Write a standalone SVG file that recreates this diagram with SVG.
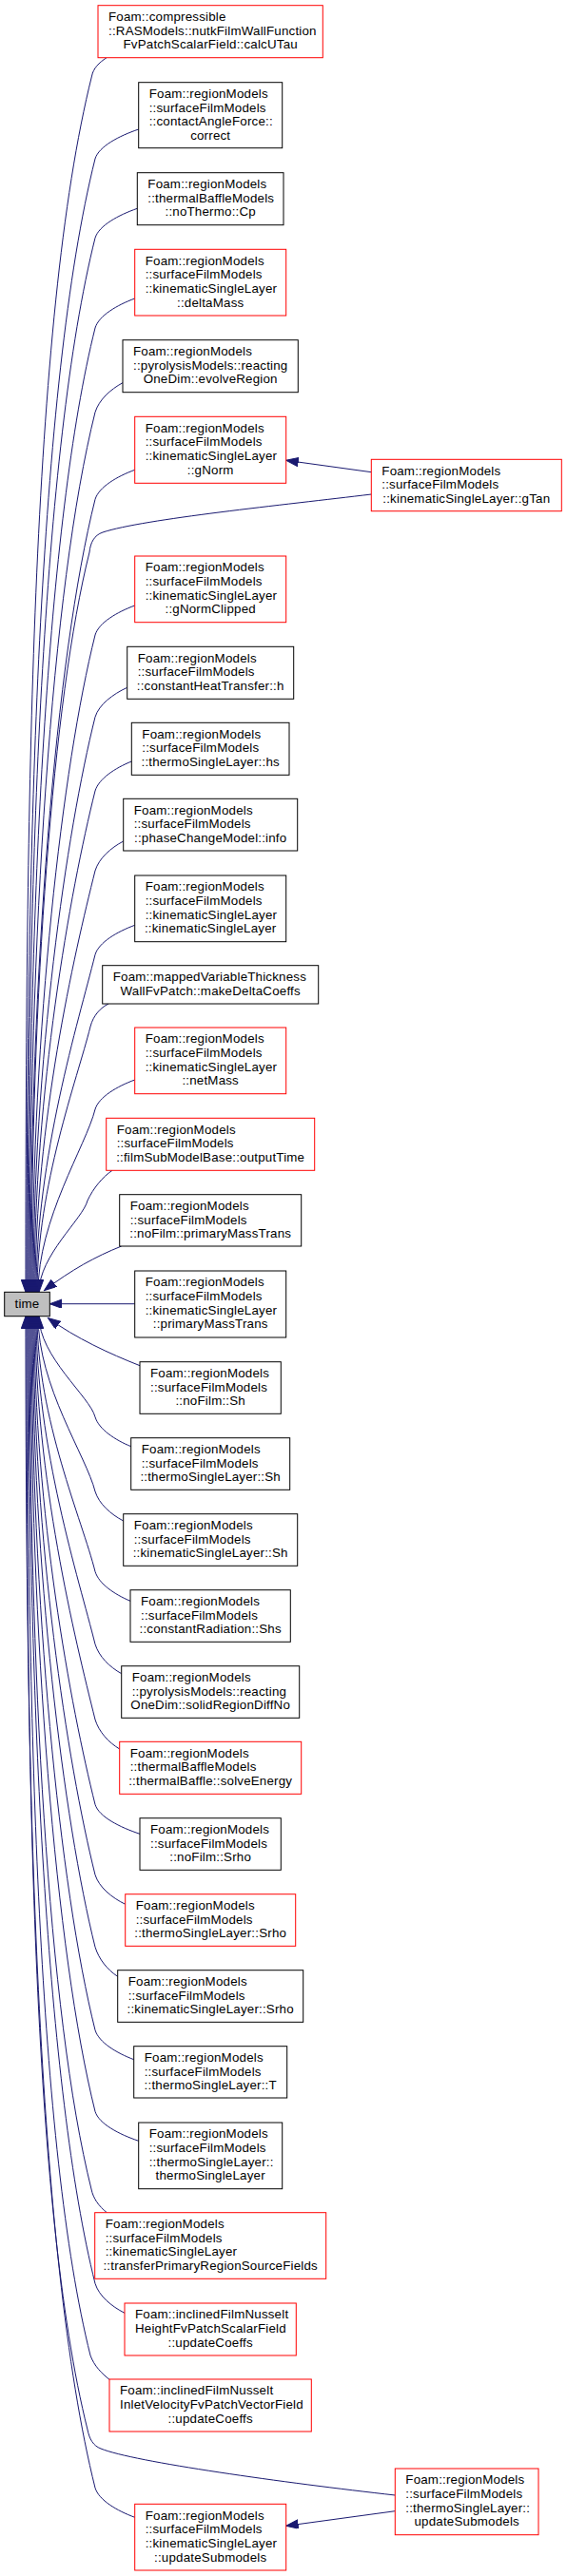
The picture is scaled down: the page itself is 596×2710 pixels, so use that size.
<svg xmlns="http://www.w3.org/2000/svg" width="596" height="2710" viewBox="0 0 596 2710">
<style>
text{font-family:"Liberation Sans",Arial,sans-serif;font-size:13.33px;letter-spacing:0.2px;fill:#000}
.c{text-anchor:middle}
.k{fill:#fff;stroke:#000;stroke-width:1}
.r{fill:#fff;stroke:#f00;stroke-width:1}
.t{fill:#bfbfbf;stroke:#000;stroke-width:1}
#edges path{fill:none;stroke:#191970;stroke-width:1;marker-end:url(#ah)}
</style>
<defs>
<marker id="ah" markerUnits="userSpaceOnUse" markerWidth="14" markerHeight="10" refX="13" refY="4.75" orient="auto">
<path d="M0,0 L13,4.75 L0,9.5 z" fill="#191970" stroke="#191970" stroke-width="1"/>
</marker>
</defs>
<rect width="596" height="2710" fill="#fff"/>
<g id="edges">
<path d="M112,60.7 C104,66 98,72 96.5,80 C32.5,335.9 27,847.6 27,1359.3"/>
<path d="M145.7,136 C125.1,143 104,154 100,167 C40.4,405.5 28,882.4 28,1359.3"/>
<path d="M144.3,219.3 C124.4,226.3 104,237.3 100,250.3 C44.5,472.1 29,915.7 29,1359.3"/>
<path d="M141.7,314 C122.9,321 104,332 100,345 C49.3,547.9 30,953.6 30,1359.3"/>
<path d="M129,402.7 C116,409.7 104,420.7 100,433.7 C53.7,618.8 31,989.1 31,1359.3"/>
<path d="M141.7,494.3 C122.9,501.3 104,512.3 100,525.3 C58.3,692.1 32,1025.7 32,1359.3"/>
<path d="M390.3,520 C300,531 150,546 108,560 C99,563 95,571 94,581 C55.1,736.7 33,1048 33,1359.3"/>
<path d="M141.7,637 C122.9,644 104,655 100,668 C65.4,806.3 34,1082.8 34,1359.3"/>
<path d="M133.7,723.3 C118.5,730.3 104,741.3 100,754.3 C69.8,875.3 35,1117.3 35,1359.3"/>
<path d="M138.3,801 C121.1,808 104,819 100,832 C73.6,937.5 36,1148.4 36,1359.3"/>
<path d="M129.7,885 C116.3,892 104,903 100,916 C77.8,1004.7 37,1182 37,1359.3"/>
<path d="M141.7,973.3 C122.9,980.3 104,991.3 100,1004.3 C82.3,1075.3 38,1217.3 38,1359.3"/>
<path d="M114,1056 C106,1060 98,1068 95,1080 C81,1135.9 39,1247.6 39,1359.3"/>
<path d="M141.7,1136 C122.9,1143 104,1154 100,1167 C90.4,1205.5 40,1282.4 40,1359.3"/>
<path d="M118,1231.3 C108,1238 98,1250 92,1263 C87.2,1282.3 41,1320.8 41,1359.3"/>
<path d="M127.7,1311 C100,1322 75,1336 46.5,1357.5"/>
<path d="M141.7,1371.7 L52.3,1371.7"/>
<path d="M147,1436.7 C115,1424 80,1408 50.5,1386.5"/>
<path d="M137.7,1521.7 C120.7,1514.7 104,1503.7 100,1490.7 C94.7,1469.5 41,1427.1 41,1384.7"/>
<path d="M129.7,1600 C116.3,1593 104,1582 100,1569 C90.8,1532.1 40,1458.4 40,1384.7"/>
<path d="M137,1684.3 C120.4,1677.3 104,1666.3 100,1653.3 C86.6,1599.6 39,1492.1 39,1384.7"/>
<path d="M127.7,1760.7 C115.2,1753.7 104,1742.7 100,1729.7 C82.8,1660.7 38,1522.7 38,1384.7"/>
<path d="M125.7,1840 C114.1,1833 104,1822 100,1809 C78.8,1724.1 37,1554.4 37,1384.7"/>
<path d="M147,1929.3 C125.9,1922.3 104,1911.3 100,1898.3 C74.3,1795.6 36,1590.1 36,1384.7"/>
<path d="M131.7,2003.3 C117.4,1996.3 104,1985.3 100,1972.3 C70.6,1854.8 35,1619.7 35,1384.7"/>
<path d="M123.7,2079.3 C113,2072.3 104,2061.3 100,2048.3 C66.8,1915.6 34,1650.1 34,1384.7"/>
<path d="M140.7,2166.7 C122.4,2159.7 104,2148.7 100,2135.7 C62.5,1985.5 33,1685.1 33,1384.7"/>
<path d="M145.7,2252.3 C125.1,2245.3 104,2234.3 100,2221.3 C58.2,2054 32,1719.3 32,1384.7"/>
<path d="M112.3,2327.7 C104,2321 98,2313 96,2303 C50.1,2119.3 31,1752 31,1384.7"/>
<path d="M131,2433.3 C117,2426.3 104,2415.3 100,2402.3 C49.1,2198.8 30,1791.7 30,1384.7"/>
<path d="M115,2503.3 C107,2497 99,2489 95,2478 C40.3,2259.3 29,1822 29,1384.7"/>
<path d="M415.3,2625 C300,2612 140,2590 106,2576 C98,2573 94,2566 92,2556 C33.4,2321.7 28,1853.2 28,1384.7"/>
<path d="M141.7,2648.3 C122.9,2641.3 104,2630.3 100,2617.3 C38.4,2370.8 27,1877.7 27,1384.7"/>
<path d="M390.3,496.7 L300.7,484.3"/>
<path d="M415.3,2641.7 L300.7,2657.3"/>
</g>
<g id="time"><rect class="t" x="4.7" y="1359.3" width="47.6" height="25.4"/><text class="c" x="28.5" y="1376.2">time</text></g>
<g id="n1"><rect class="r" x="103" y="5.7" width="236.3" height="55"/><text x="114" y="22.1">Foam::compressible</text><text x="114" y="36.8">::RASModels::nutkFilmWallFunction</text><text class="c" x="221.2" y="51.4">FvPatchScalarField::calcUTau</text></g>
<g id="n2"><rect class="k" x="145.7" y="86.7" width="151" height="69"/><text x="156.7" y="103.1">Foam::regionModels</text><text x="156.7" y="117.8">::surfaceFilmModels</text><text x="156.7" y="132.4">::contactAngleForce::</text><text class="c" x="221.2" y="147.1">correct</text></g>
<g id="n3"><rect class="k" x="144.3" y="181.7" width="153.7" height="55"/><text x="155.3" y="198.1">Foam::regionModels</text><text x="155.3" y="212.8">::thermalBaffleModels</text><text class="c" x="221.2" y="227.4">::noThermo::Cp</text></g>
<g id="n4"><rect class="r" x="141.7" y="262.3" width="159" height="69.7"/><text x="152.7" y="278.7">Foam::regionModels</text><text x="152.7" y="293.4">::surfaceFilmModels</text><text x="152.7" y="308">::kinematicSingleLayer</text><text class="c" x="221.2" y="322.7">::deltaMass</text></g>
<g id="n5"><rect class="k" x="129" y="357.7" width="184.3" height="55"/><text x="140" y="374.1">Foam::regionModels</text><text x="140" y="388.8">::pyrolysisModels::reacting</text><text class="c" x="221.2" y="403.4">OneDim::evolveRegion</text></g>
<g id="n6"><rect class="r" x="141.7" y="438.3" width="159" height="70"/><text x="152.7" y="454.7">Foam::regionModels</text><text x="152.7" y="469.4">::surfaceFilmModels</text><text x="152.7" y="484">::kinematicSingleLayer</text><text class="c" x="221.2" y="498.7">::gNorm</text></g>
<g id="gtan"><rect class="r" x="390.3" y="483.3" width="200" height="54.4"/><text x="401.3" y="499.7">Foam::regionModels</text><text x="401.3" y="514.4">::surfaceFilmModels</text><text class="c" x="490.3" y="529">::kinematicSingleLayer::gTan</text></g>
<g id="n7"><rect class="r" x="141.7" y="585" width="159" height="69.7"/><text x="152.7" y="601.4">Foam::regionModels</text><text x="152.7" y="616.1">::surfaceFilmModels</text><text x="152.7" y="630.7">::kinematicSingleLayer</text><text class="c" x="221.2" y="645.4">::gNormClipped</text></g>
<g id="n8"><rect class="k" x="133.7" y="680.3" width="175" height="55"/><text x="144.7" y="696.7">Foam::regionModels</text><text x="144.7" y="711.4">::surfaceFilmModels</text><text class="c" x="221.2" y="726">::constantHeatTransfer::h</text></g>
<g id="n9"><rect class="k" x="138.3" y="760.3" width="165.7" height="55"/><text x="149.3" y="776.7">Foam::regionModels</text><text x="149.3" y="791.4">::surfaceFilmModels</text><text class="c" x="221.2" y="806">::thermoSingleLayer::hs</text></g>
<g id="n10"><rect class="k" x="129.7" y="840.3" width="183" height="54.7"/><text x="140.7" y="856.7">Foam::regionModels</text><text x="140.7" y="871.4">::surfaceFilmModels</text><text class="c" x="221.2" y="886">::phaseChangeModel::info</text></g>
<g id="n11"><rect class="k" x="141.7" y="921" width="159" height="69.7"/><text x="152.7" y="937.4">Foam::regionModels</text><text x="152.7" y="952.1">::surfaceFilmModels</text><text x="152.7" y="966.7">::kinematicSingleLayer</text><text class="c" x="221.2" y="981.4">::kinematicSingleLayer</text></g>
<g id="n12"><rect class="k" x="107.7" y="1015.7" width="227" height="40.3"/><text x="118.7" y="1032.1">Foam::mappedVariableThickness</text><text class="c" x="221.2" y="1046.8">WallFvPatch::makeDeltaCoeffs</text></g>
<g id="n13"><rect class="r" x="141.7" y="1081" width="159" height="69.7"/><text x="152.7" y="1097.4">Foam::regionModels</text><text x="152.7" y="1112.1">::surfaceFilmModels</text><text x="152.7" y="1126.7">::kinematicSingleLayer</text><text class="c" x="221.2" y="1141.4">::netMass</text></g>
<g id="n14"><rect class="r" x="111.7" y="1176.3" width="219" height="55"/><text x="122.7" y="1192.7">Foam::regionModels</text><text x="122.7" y="1207.4">::surfaceFilmModels</text><text class="c" x="221.2" y="1222">::filmSubModelBase::outputTime</text></g>
<g id="n15"><rect class="k" x="125.7" y="1256.7" width="191" height="54.3"/><text x="136.7" y="1273.1">Foam::regionModels</text><text x="136.7" y="1287.8">::surfaceFilmModels</text><text class="c" x="221.2" y="1302.4">::noFilm::primaryMassTrans</text></g>
<g id="n16"><rect class="k" x="141.7" y="1337" width="159" height="70"/><text x="152.7" y="1353.4">Foam::regionModels</text><text x="152.7" y="1368.1">::surfaceFilmModels</text><text x="152.7" y="1382.7">::kinematicSingleLayer</text><text class="c" x="221.2" y="1397.4">::primaryMassTrans</text></g>
<g id="n17"><rect class="k" x="147" y="1432.7" width="148.3" height="54.6"/><text x="158" y="1449.1">Foam::regionModels</text><text x="158" y="1463.8">::surfaceFilmModels</text><text class="c" x="221.2" y="1478.4">::noFilm::Sh</text></g>
<g id="n18"><rect class="k" x="137.7" y="1512.7" width="167" height="54.6"/><text x="148.7" y="1529.1">Foam::regionModels</text><text x="148.7" y="1543.8">::surfaceFilmModels</text><text class="c" x="221.2" y="1558.4">::thermoSingleLayer::Sh</text></g>
<g id="n19"><rect class="k" x="129.7" y="1592.7" width="183" height="54.6"/><text x="140.7" y="1609.1">Foam::regionModels</text><text x="140.7" y="1623.8">::surfaceFilmModels</text><text class="c" x="221.2" y="1638.4">::kinematicSingleLayer::Sh</text></g>
<g id="n20"><rect class="k" x="137" y="1672.7" width="168.3" height="54.6"/><text x="148" y="1689.1">Foam::regionModels</text><text x="148" y="1703.8">::surfaceFilmModels</text><text class="c" x="221.2" y="1718.4">::constantRadiation::Shs</text></g>
<g id="n21"><rect class="k" x="127.7" y="1752.7" width="187" height="54.6"/><text x="138.7" y="1769.1">Foam::regionModels</text><text x="138.7" y="1783.8">::pyrolysisModels::reacting</text><text class="c" x="221.2" y="1798.4">OneDim::solidRegionDiffNo</text></g>
<g id="n22"><rect class="r" x="125.7" y="1832.3" width="191" height="55"/><text x="136.7" y="1848.7">Foam::regionModels</text><text x="136.7" y="1863.4">::thermalBaffleModels</text><text class="c" x="221.2" y="1878">::thermalBaffle::solveEnergy</text></g>
<g id="n23"><rect class="k" x="147" y="1912.7" width="148.3" height="54.6"/><text x="158" y="1929.1">Foam::regionModels</text><text x="158" y="1943.8">::surfaceFilmModels</text><text class="c" x="221.2" y="1958.4">::noFilm::Srho</text></g>
<g id="n24"><rect class="r" x="131.7" y="1992.7" width="179" height="54.6"/><text x="142.7" y="2009.1">Foam::regionModels</text><text x="142.7" y="2023.8">::surfaceFilmModels</text><text class="c" x="221.2" y="2038.4">::thermoSingleLayer::Srho</text></g>
<g id="n25"><rect class="k" x="123.7" y="2072.7" width="195" height="54.6"/><text x="134.7" y="2089.1">Foam::regionModels</text><text x="134.7" y="2103.8">::surfaceFilmModels</text><text class="c" x="221.2" y="2118.4">::kinematicSingleLayer::Srho</text></g>
<g id="n26"><rect class="k" x="140.7" y="2152.7" width="161" height="54.3"/><text x="151.7" y="2169.1">Foam::regionModels</text><text x="151.7" y="2183.8">::surfaceFilmModels</text><text class="c" x="221.2" y="2198.4">::thermoSingleLayer::T</text></g>
<g id="n27"><rect class="k" x="145.7" y="2233" width="151" height="69.7"/><text x="156.7" y="2249.4">Foam::regionModels</text><text x="156.7" y="2264.1">::surfaceFilmModels</text><text x="156.7" y="2278.7">::thermoSingleLayer::</text><text class="c" x="221.2" y="2293.4">thermoSingleLayer</text></g>
<g id="n28"><rect class="r" x="99.7" y="2327.7" width="243" height="69.6"/><text x="110.7" y="2344.1">Foam::regionModels</text><text x="110.7" y="2358.8">::surfaceFilmModels</text><text x="110.7" y="2373.4">::kinematicSingleLayer</text><text class="c" x="221.2" y="2388.1">::transferPrimaryRegionSourceFields</text></g>
<g id="n29"><rect class="r" x="131" y="2423" width="180.3" height="55"/><text x="142" y="2439.4">Foam::inclinedFilmNusselt</text><text x="142" y="2454.1">HeightFvPatchScalarField</text><text class="c" x="221.2" y="2468.7">::updateCoeffs</text></g>
<g id="n30"><rect class="r" x="115" y="2503" width="212.3" height="55"/><text x="126" y="2519.4">Foam::inclinedFilmNusselt</text><text x="126" y="2534.1">InletVelocityFvPatchVectorField</text><text class="c" x="221.2" y="2548.7">::updateCoeffs</text></g>
<g id="n31"><rect class="r" x="141.7" y="2634.3" width="159" height="69.7"/><text x="152.7" y="2650.7">Foam::regionModels</text><text x="152.7" y="2665.4">::surfaceFilmModels</text><text x="152.7" y="2680">::kinematicSingleLayer</text><text class="c" x="221.2" y="2694.7">::updateSubmodels</text></g>
<g id="tsl"><rect class="r" x="415.3" y="2597" width="150.7" height="69.7"/><text x="426.3" y="2613.4">Foam::regionModels</text><text x="426.3" y="2628.1">::surfaceFilmModels</text><text x="426.3" y="2642.7">::thermoSingleLayer::</text><text class="c" x="490.7" y="2657.4">updateSubmodels</text></g>
</svg>
